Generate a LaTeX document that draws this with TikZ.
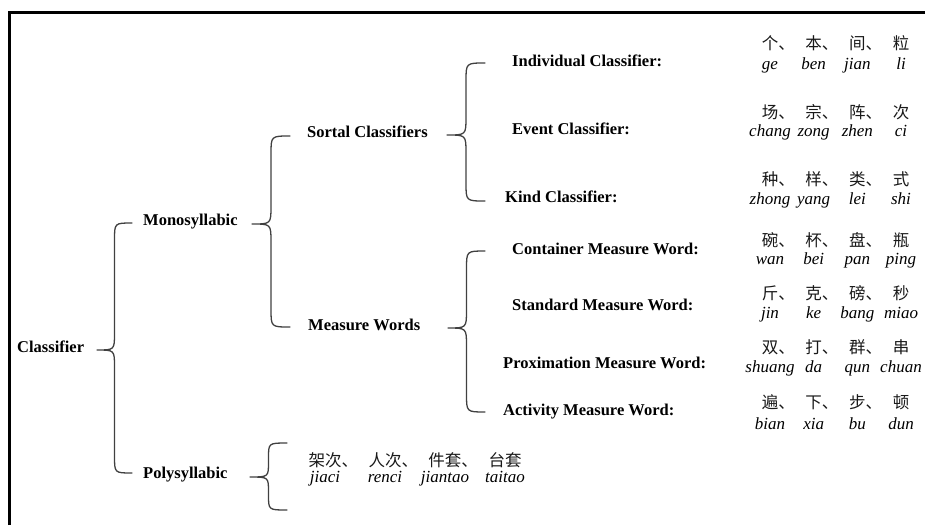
\documentclass[tikz,border=0pt]{standalone}
\usepackage{fontspec}
\setmainfont{Liberation Serif}
\newfontfamily\cjk{Noto Sans CJK SC}
\usetikzlibrary{calc}
\newcommand\cc[1]{\makebox[43.67pt][c]{#1}}
\newcommand\pc[1]{\makebox[60pt][c]{#1}}
\newcommand\kcomma{\rlap{、}}
\newcommand\mybrace[4]{%
  \draw[br] let \p1=(#1), \p2=(#2), \p3=(#3), \n1={(\x1+\x2)/2} in
    (\p1) .. controls (\n1,\y1) .. (\n1,{\y1-#4pt})
    -- (\n1,{\y2+#4pt}) .. controls (\n1,\y2) .. (\p2)
    .. controls (\n1,\y2) .. (\n1,{\y2-#4pt})
    -- (\n1,{\y3+#4pt}) .. controls (\n1,\y3) .. (\p3);}
\begin{document}
\begin{tikzpicture}[x=1pt,y=-1pt,
  lab/.style={anchor=west,inner sep=0pt,text=black,
    font=\fontsize{16.5}{18}\selectfont\bfseries,text height=0.7em,text depth=0.2em},
  hz/.style={inner sep=0pt,text=black!90,
    font=\fontsize{16.5}{18}\selectfont\cjk,text height=0.8em,text depth=0.1em},
  py/.style={inner sep=0pt,text=black,
    font=\fontsize{17}{19}\selectfont\itshape,text height=0.7em,text depth=0.22em},
  br/.style={line width=1.3pt,draw=black!75,line join=round,line cap=round}]
\useasboundingbox (0,0) rectangle (925,525);
% frame
\coordinate (fa) at (9,525);
\coordinate (fb) at (9,12.5);
\coordinate (fc) at (925,12.5);
\draw[line width=3pt,line join=miter] (fa) -- (fb) -- (fc);
% labels
\node[lab] (cls) at (17,350) {Classifier};
\node[lab] (mono) at (143,223) {Monosyllabic};
\node[lab] (poly) at (143,476) {Polysyllabic};
\node[lab] (sort) at (307,135) {Sortal Classifiers};
\node[lab] (meas) at (308,328) {Measure Words};
\node[lab] (ind) at (512,64) {Individual Classifier:};
\node[lab] (evt) at (512,132) {Event Classifier:};
\node[lab] (kind) at (505,200) {Kind Classifier:};
\node[lab] (cont) at (512,252) {Container Measure Word:};
\node[lab] (std) at (512,308) {Standard Measure Word:};
\node[lab] (prox) at (503,366) {Proximation Measure Word:};
\node[lab] (act) at (503,413) {Activity Measure Word:};
% examples
\node[hz] (r1c) at (835.5,46) {\cc{个\kcomma}\cc{本\kcomma}\cc{间\kcomma}\cc{粒}};
\node[py] (r1p) at (835.5,67) {\cc{ge}\cc{ben}\cc{jian}\cc{li}};
\node[hz] (r2c) at (835.5,115) {\cc{场\kcomma}\cc{宗\kcomma}\cc{阵\kcomma}\cc{次}};
\node[py] (r2p) at (835.5,134) {\cc{chang}\cc{zong}\cc{zhen}\cc{ci}};
\node[hz] (r3c) at (835.5,182) {\cc{种\kcomma}\cc{样\kcomma}\cc{类\kcomma}\cc{式}};
\node[py] (r3p) at (835.5,202) {\cc{zhong}\cc{yang}\cc{lei}\cc{shi}};
\node[hz] (r4c) at (835.5,243) {\cc{碗\kcomma}\cc{杯\kcomma}\cc{盘\kcomma}\cc{瓶}};
\node[py] (r4p) at (835.5,262) {\cc{wan}\cc{bei}\cc{pan}\cc{ping}};
\node[hz] (r5c) at (835.5,296) {\cc{斤\kcomma}\cc{克\kcomma}\cc{磅\kcomma}\cc{秒}};
\node[py] (r5p) at (835.5,316) {\cc{jin}\cc{ke}\cc{bang}\cc{miao}};
\node[hz] (r6c) at (835.5,350) {\cc{双\kcomma}\cc{打\kcomma}\cc{群\kcomma}\cc{串}};
\node[py] (r6p) at (835.5,370) {\cc{shuang}\cc{da}\cc{qun}\cc{chuan}};
\node[hz] (r7c) at (835.5,405) {\cc{遍\kcomma}\cc{下\kcomma}\cc{步\kcomma}\cc{顿}};
\node[py] (r7p) at (835.5,427) {\cc{bian}\cc{xia}\cc{bu}\cc{dun}};
\node[hz] (r8c) at (415,463) {\pc{架次\kcomma}\pc{人次\kcomma}\pc{件套\kcomma}\pc{台套}};
\node[py] (r8p) at (415,480) {\pc{jiaci}\pc{renci}\pc{jiantao}\pc{taitao}};
% braces
\coordinate (b1a) at (132,223); \coordinate (b1m) at (97,350); \coordinate (b1b) at (132,473);
\coordinate (b2a) at (290,136); \coordinate (b2m) at (252,224); \coordinate (b2b) at (290,327);
\coordinate (b3a) at (485,63);  \coordinate (b3m) at (447,135); \coordinate (b3b) at (485,201);
\coordinate (b4a) at (485,251); \coordinate (b4m) at (448,328); \coordinate (b4b) at (485,412);
\coordinate (b5a) at (287,443); \coordinate (b5m) at (250,477); \coordinate (b5b) at (287,510);
\mybrace{b1a}{b1m}{b1b}{17}
\mybrace{b2a}{b2m}{b2b}{18}
\mybrace{b3a}{b3m}{b3b}{18}
\mybrace{b4a}{b4m}{b4b}{18}
\mybrace{b5a}{b5m}{b5b}{15}
\end{tikzpicture}
\end{document}
